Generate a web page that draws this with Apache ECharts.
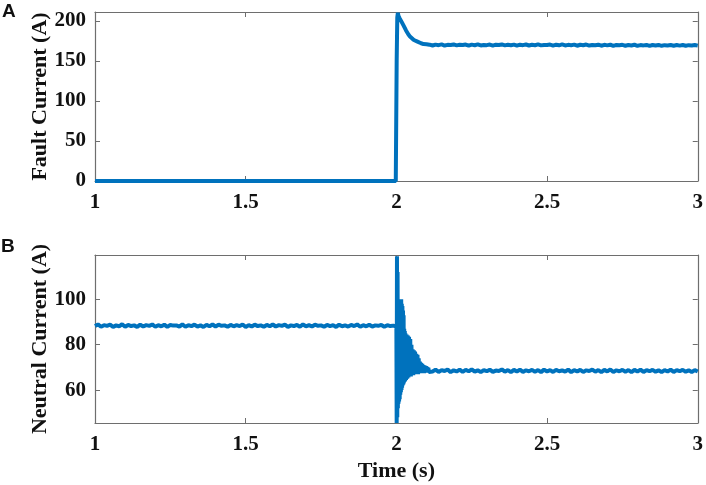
<!DOCTYPE html>
<html><head><meta charset="utf-8">
<script src="https://cdn.jsdelivr.net/npm/echarts@6/dist/echarts.min.js"></script>
<style>html,body{margin:0;padding:0;background:#fff}#c{width:706px;height:485px}</style>
</head><body><div id="c"></div>
<script>
// ---------- data ----------
var xTicks = [1, 1.5, 2, 2.5, 3];
var faultTicks = [0, 50, 100, 150, 200];
var neutralTicks = [60, 80, 100];

// Fault current: pre-fault + transient (explicit times)
var faultT = [1.0, 1.5, 1.998, 1.9995, 2.001, 2.003, 2.005, 2.007, 2.009, 2.011, 2.014, 2.017, 2.02, 2.024, 2.028, 2.032, 2.036, 2.04, 2.046, 2.052, 2.058, 2.064, 2.07, 2.076, 2.082, 2.09, 2.1, 2.11];
var faultI = [0, 0, 0, 0, 150, 204, 210, 206, 207, 203, 204, 199, 200, 194, 192, 188, 186, 183, 180, 178, 176, 175, 174, 172.5, 172, 171, 170.8, 170.2];
// Fault current steady state, sampled every 0.01 s from 2.12 s
var faultSteadyStart = 2.12, faultSteadyStep = 0.01;
var faultSteady = [169.2, 170.3, 169.6, 170.6, 169.1, 170.0, 169.8, 170.5, 169.3, 170.1, 169.7, 170.4, 169.0, 170.3, 169.5, 170.6, 169.2, 169.9, 169.6, 170.4, 169.1, 170.2, 169.7, 170.5, 169.3, 170.0, 169.4, 170.3, 169.0, 170.2, 169.6, 170.4, 169.2, 170.1, 169.5, 170.6, 169.3, 169.9, 169.7, 170.3, 169.1, 170.2, 169.4, 170.5, 169.2, 170.0, 169.6, 170.3, 168.9, 170.1, 169.5, 170.4, 169.1, 169.9, 169.4, 170.2, 168.9, 170.0, 169.3, 170.1, 168.8, 169.9, 169.4, 170.0, 168.9, 169.8, 169.2, 170.1, 168.8, 169.7, 169.3, 169.9, 168.7, 169.8, 169.1, 169.9, 168.8, 169.6, 169.2, 169.8, 168.9, 169.7, 169.0, 169.8, 168.8, 169.6, 169.1, 169.7, 169.0];

// Neutral current pre-fault, every 0.01 s from 1.0 s
var neutralPreStart = 1.0, neutralPreStep = 0.01;
var neutralPre = [88.2, 88.9, 87.9, 88.6, 88.3, 88.8, 87.8, 88.5, 88.1, 89.0, 87.9, 88.7, 88.2, 88.5, 87.8, 88.8, 88.0, 88.6, 88.3, 88.9, 87.9, 88.6, 88.1, 88.8, 87.8, 88.7, 88.4, 88.5, 88.0, 88.9, 87.9, 88.6, 88.2, 88.8, 88.0, 88.5, 87.8, 88.7, 88.1, 88.9, 88.0, 88.8, 88.3, 88.5, 87.9, 88.7, 88.1, 88.6, 88.2, 88.9, 87.8, 88.6, 88.0, 88.8, 88.2, 88.5, 87.9, 88.7, 88.1, 88.9, 88.0, 88.6, 88.3, 88.8, 87.8, 88.5, 88.2, 88.7, 87.9, 88.9, 88.1, 88.6, 88.0, 88.8, 88.3, 88.5, 87.9, 88.7, 88.2, 88.6, 87.8, 88.8, 88.1, 88.5, 88.0, 88.7, 88.2, 88.9, 87.9, 88.6, 88.1, 88.8, 88.0, 88.5, 88.3, 88.7, 87.9, 88.6, 88.2, 88.4];
// Neutral current transient, every 0.001 s from 2.0 s
var neutralTr1Start = 2.0, neutralTr1Step = 0.001;
var neutralTr1 = [88, 45.5, 119, 48, 112, 52, 94, 54, 92, 55, 90, 56, 89, 58, 100, 59, 100, 60, 98, 61, 97, 62, 95, 62.5, 93, 63, 87, 63.5, 86, 64];
// Neutral current transient, every 0.002 s from 2.03 s
var neutralTr2Start = 2.03, neutralTr2Step = 0.002;
var neutralTr2 = [85, 64.5, 84.5, 65, 84, 65.5, 83.5, 66, 82.5, 66, 80, 66.5, 78, 66.5, 77.5, 67, 77, 67, 76, 67, 75.5, 67, 74, 67.5, 72.5, 67.5, 72, 67.5, 71.5, 67.5, 71, 67.5, 70.8, 67.8, 70.5, 67.8, 70.2, 67.8, 69.8, 68];
// Neutral current steady state, every 0.01 s from 2.12 s
var neutralPostStart = 2.12, neutralPostStep = 0.01;
var neutralPost = [
  68.2, 69.0, 68.0, 68.8, 68.4, 69.1, 67.9, 68.7, 68.2, 69.0,
  68.0, 68.9, 68.3, 69.1, 68.1, 68.7, 67.9, 68.8, 68.3, 69.0,
  68.0, 68.6, 68.4, 69.1, 68.1, 68.8, 67.9, 68.9, 68.2, 69.0,
  68.0, 68.7, 68.3, 68.9, 68.1, 68.8, 67.9, 69.0, 68.2, 68.8,
  68.0, 68.9, 68.3, 68.7, 68.1, 69.0, 67.9, 68.8, 68.2, 68.9,
  68.0, 68.7, 68.4, 69.0, 68.1, 68.8, 67.9, 68.9, 68.2, 69.1,
  68.0, 68.7, 68.3, 68.9, 68.1, 68.8, 67.9, 68.9, 68.2, 69.0,
  68.0, 68.8, 68.3, 68.9, 68.1, 68.7, 67.9, 68.8, 68.2, 69.0,
  68.0, 68.8, 68.3, 68.9, 68.1, 68.7, 68.0, 68.8, 68.2];

// ---------- build ----------
function seg(start, step, vals) { return vals.map(function (v, i) { return [+(start + i * step).toFixed(4), v]; }); }
var faultData = faultT.map(function (t, i) { return [t, faultI[i]]; }).concat(seg(faultSteadyStart, faultSteadyStep, faultSteady));
var neutralData = seg(neutralPreStart, neutralPreStep, neutralPre)
  .concat(seg(neutralTr1Start, neutralTr1Step, neutralTr1))
  .concat(seg(neutralTr2Start, neutralTr2Step, neutralTr2))
  .concat(seg(neutralPostStart, neutralPostStep, neutralPost));

var FONT = 'Liberation Serif';
var AX = '#6e6e6e';
var BLUE = '#0072BD';
function xAx(grid, show) {
  return {
    type: 'value', gridIndex: grid, min: 1, max: 3, interval: 0.5,
    position: show ? 'bottom' : 'top',
    name: (show && grid === 1) ? 'Time (s)' : '', nameLocation: 'middle', nameGap: 37,
    nameTextStyle: { fontFamily: FONT, fontWeight: 'bold', fontSize: 22, color: '#111' },
    axisLine: { show: true, onZero: false, lineStyle: { color: AX, width: 1.2 } },
    axisTick: { show: true, inside: true, length: 5, lineStyle: { color: AX } },
    axisLabel: { show: show, margin: 11, fontFamily: FONT, fontWeight: 'bold', fontSize: 21, color: '#111' },
    splitLine: { show: false }
  };
}
function yAx(grid, show, min, max, ticks, name) {
  return {
    type: 'value', gridIndex: grid, min: min, max: max,
    position: show ? 'left' : 'right',
    name: show ? name : '', nameLocation: 'middle', nameGap: 44, nameMoveOverlap: false,
    nameTextStyle: { fontFamily: FONT, fontWeight: 'bold', fontSize: 22, color: '#111' },
    axisLine: { show: true, onZero: false, lineStyle: { color: AX, width: 1.2 } },
    axisTick: { show: true, inside: true, length: 5, customValues: ticks, lineStyle: { color: AX } },
    axisLabel: { show: show, margin: 9, customValues: ticks, fontFamily: FONT, fontWeight: 'bold', fontSize: 21, color: '#111' },
    splitLine: { show: false }
  };
}
var chart = echarts.init(document.getElementById('c'));
chart.setOption({
  animation: false,
  backgroundColor: '#fff',
  grid: [
    { left: 95, right: 6, top: 12, height: 169 },
    { left: 95, right: 6, top: 255, height: 168 }
  ],
  xAxis: [xAx(0, true), xAx(0, false), xAx(1, true), xAx(1, false)],
  yAxis: [
    yAx(0, true, 0, 211, faultTicks, 'Fault Current (A)'),
    yAx(0, false, 0, 211, faultTicks, ''),
    yAx(1, true, 45.5, 119.5, neutralTicks, 'Neutral Current (A)'),
    yAx(1, false, 45.5, 119.5, neutralTicks, '')
  ],
  graphic: [
    { type: 'text', left: 2, top: 2, style: { text: 'A', font: 'bold 19px "Liberation Sans"', fill: '#111' } },
    { type: 'text', left: 1, top: 237, style: { text: 'B', font: 'bold 19px "Liberation Sans"', fill: '#111' } }
  ],
  series: [
    { type: 'line', xAxisIndex: 0, yAxisIndex: 0, data: faultData, showSymbol: false, lineStyle: { color: BLUE, width: 4 }, clip: true },
    { type: 'line', xAxisIndex: 2, yAxisIndex: 2, data: neutralData, showSymbol: false, lineStyle: { color: BLUE, width: 4 }, clip: false }
  ]
});
</script></body></html>
